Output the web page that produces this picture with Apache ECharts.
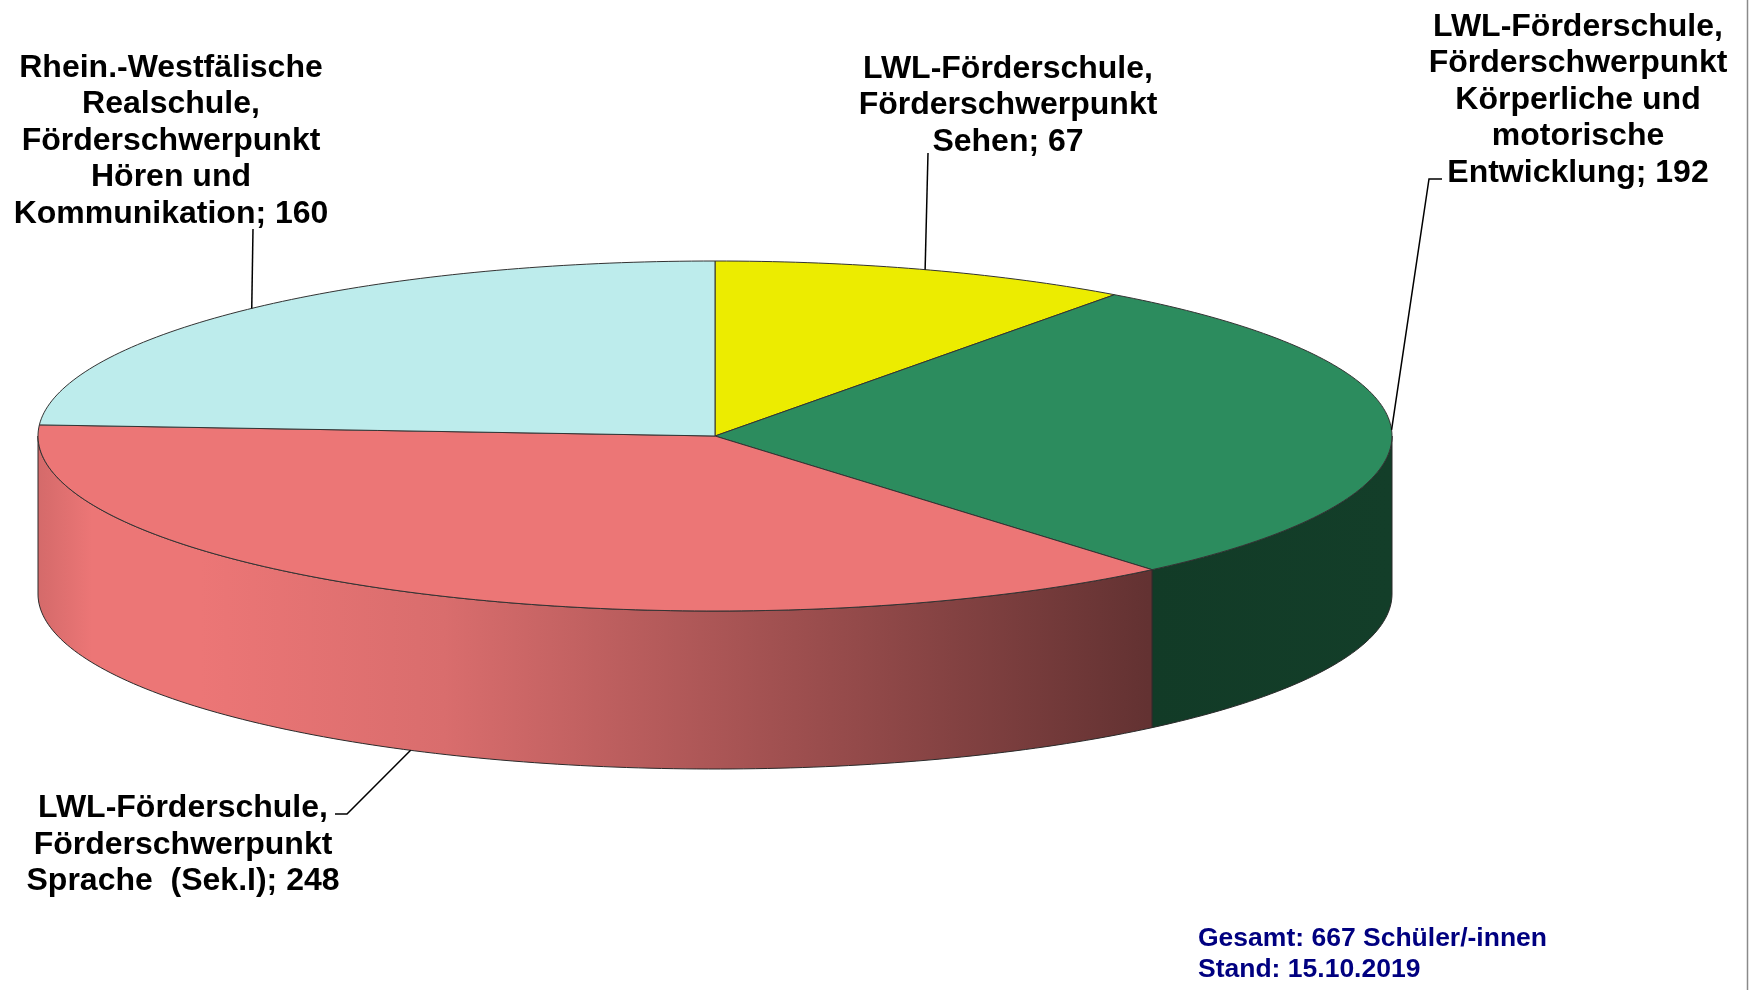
<!DOCTYPE html>
<html><head><meta charset="utf-8">
<script src="https://cdn.jsdelivr.net/npm/echarts@6/dist/echarts.min.js"></script>
<style>html,body{margin:0;padding:0;background:#fff}#c{width:1753px;height:990px}</style>
</head><body><div id="c"></div>
<script>
// ---- data ----
const categories = [
  'LWL-Förderschule,\nFörderschwerpunkt\nSehen',
  'LWL-Förderschule,\nFörderschwerpunkt\nKörperliche und\nmotorische\nEntwicklung',
  'LWL-Förderschule,\nFörderschwerpunkt\nSprache  (Sek.I)',
  'Rhein.-Westfälische\nRealschule,\nFörderschwerpunkt\nHören und\nKommunikation'
];
const values = [67, 192, 248, 160];
const colors = ['#ECEC00', '#2C8C5E', '#EC7676', '#BDECEC'];
const notes = ['Gesamt: 667 Schüler/-innen', 'Stand: 15.10.2019'];

// ---- layout ----
const PIE = {cx: 715, cy: 436, rx: 677, ry: 175, depth: 158};
const LABELS = [
  {x: 1008, y: 105.5, leader: [[928, 153]]},
  {x: 1578, y: 100, leader: [[1429, 179], [1442, 179]]},
  {x: 183, y: 845, leader: [[347, 814], [335, 814]]},
  {x: 171, y: 141, leader: [[253, 229]]}
];
const FONT = 'Liberation Sans';

const total = values.reduce((a, b) => a + b, 0);
function angles(i) {
  let s = 0;
  for (let k = 0; k < i; k++) s += values[k];
  return [s / total * Math.PI * 2, (s + values[i]) / total * Math.PI * 2];
}
function pt(a, dy) {
  return [PIE.cx + PIE.rx * Math.sin(a), PIE.cy - PIE.ry * Math.cos(a) + (dy || 0)];
}
function arc(a0, a1, dy) {
  const n = Math.max(2, Math.ceil(Math.abs(a1 - a0) / (Math.PI * 2) * 360));
  const out = [];
  for (let k = 0; k <= n; k++) out.push(pt(a0 + (a1 - a0) * k / n, dy));
  return out;
}
function shade(hex, f) {
  const n = parseInt(hex.slice(1), 16);
  const r = Math.round(((n >> 16) & 255) * f), g = Math.round(((n >> 8) & 255) * f), b = Math.round((n & 255) * f);
  return 'rgb(' + r + ',' + g + ',' + b + ')';
}
const SHADE_STOPS = [[0, 0.9], [0.04, 1.0], [0.12, 1.0], [0.3, 0.92], [0.55, 0.68], [0.82, 0.42], [1, 0.44]];

function renderSide(params) {
  const i = params.dataIndex;
  const [a0, a1] = angles(i);
  const lo = Math.max(a0, Math.PI / 2), hi = Math.min(a1, Math.PI * 1.5);
  if (lo >= hi) return {type: 'group', children: []};
  const pts = arc(lo, hi, 0).concat(arc(hi, lo, PIE.depth));
  return {
    type: 'polygon',
    shape: {points: pts},
    style: {
      fill: {
        type: 'linear', global: true,
        x: PIE.cx - PIE.rx, y: 0, x2: PIE.cx + PIE.rx, y2: 0,
        colorStops: SHADE_STOPS.map(s => ({offset: s[0], color: shade(colors[i], s[1])}))
      },
      stroke: '#2a2a2a', lineWidth: 1
    }
  };
}
function renderTop(params) {
  const i = params.dataIndex;
  const [a0, a1] = angles(i);
  const pts = [[PIE.cx, PIE.cy]].concat(arc(a0, a1, 0));
  return {
    type: 'polygon',
    shape: {points: pts},
    style: {fill: colors[i], stroke: '#333', lineWidth: 1}
  };
}
function renderLabel(params, api) {
  const i = params.dataIndex;
  const [a0, a1] = angles(i);
  const mid = (a0 + a1) / 2;
  const front = Math.cos(mid) < 0;
  const start = pt(mid, front ? PIE.depth : 0);
  const L = LABELS[i];
  return {
    type: 'group',
    children: [
      {type: 'polyline', shape: {points: [start].concat(L.leader)}, style: {stroke: '#000', lineWidth: 1.5, fill: null}},
      {type: 'text', x: L.x, y: L.y, style: {
        text: categories[i] + '; ' + api.value(0),
        fontFamily: FONT, fontWeight: 'bold', fontSize: 32, lineHeight: 36.5,
        align: 'center', verticalAlign: 'middle', fill: '#000'
      }}
    ]
  };
}

const chart = echarts.init(document.getElementById('c'), null, {renderer: 'canvas'});
chart.setOption({
  animation: false,
  backgroundColor: '#fff',
  series: [
    {type: 'custom', coordinateSystem: 'none', z: 1, data: values, renderItem: renderSide, silent: true},
    {type: 'custom', coordinateSystem: 'none', z: 2, data: values, renderItem: renderTop, silent: true},
    {type: 'custom', coordinateSystem: 'none', z: 3, data: values, renderItem: renderLabel, silent: true}
  ],
  graphic: [
    {type: 'line', shape: {x1: 1747.5, y1: 0, x2: 1747.5, y2: 990}, style: {stroke: '#8a8a8a', lineWidth: 1.5}},
    {type: 'text', left: 1198, top: 925, style: {text: notes[0], fontFamily: FONT, fontWeight: 'bold', fontSize: 26.5, fill: '#000080'}},
    {type: 'text', left: 1198, top: 956, style: {text: notes[1], fontFamily: FONT, fontWeight: 'bold', fontSize: 26.5, fill: '#000080'}}
  ]
});
</script></body></html>
